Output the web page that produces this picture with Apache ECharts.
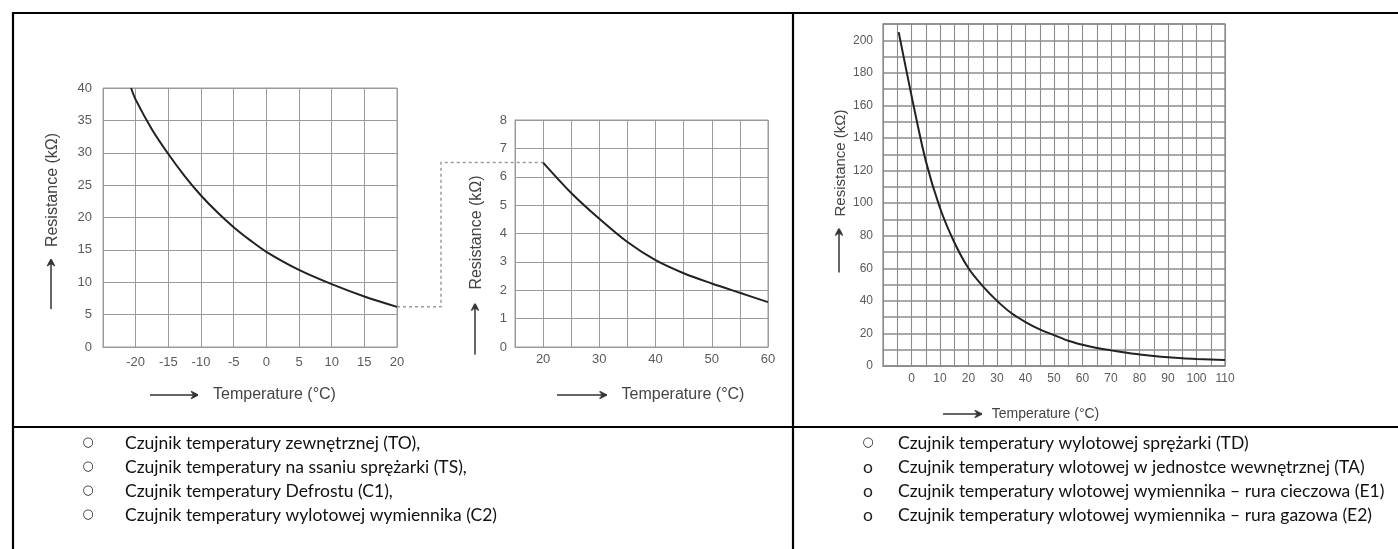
<!DOCTYPE html>
<html><head><meta charset="utf-8">
<script src="https://cdn.jsdelivr.net/npm/echarts@6/dist/echarts.min.js"></script>
<style>html,body{margin:0;padding:0;background:#fff}#c{width:1398px;height:549px}</style>
</head><body><div id="c"></div>
<script>
// ---- data ----
const temps1 = [-20.7, -20, -17.5, -15, -12.5, -10, -7.5, -5, -2.5, 0, 5, 10, 15, 20];
const res1   = [40, 38.2, 33.6, 29.8, 26.4, 23.4, 20.8, 18.5, 16.5, 14.7, 11.9, 9.7, 7.8, 6.2];
const temps2 = [20, 25, 30, 35, 40, 45, 50, 55, 60];
const res2   = [6.5, 5.43, 4.52, 3.7, 3.06, 2.6, 2.24, 1.91, 1.58];
const temps3 = [-4.5, 0, 5, 10, 15, 20, 25, 30, 35, 40, 45, 50, 55, 60, 65, 70, 75, 80, 85, 90, 95, 100, 105, 110];
const res3   = [205, 166, 126, 97, 76, 60, 49, 40, 32.5, 27, 22.5, 19, 15.5, 13, 11, 9.6, 8.3, 7.1, 6.1, 5.3, 4.7, 4.3, 4.0, 3.7];
const xLabels1 = [-20, -15, -10, -5, 0, 5, 10, 15, 20];
const yLabels1 = [0, 5, 10, 15, 20, 25, 30, 35, 40];
const xLabels2 = [20, 30, 40, 50, 60];
const yLabels2 = [0, 1, 2, 3, 4, 5, 6, 7, 8];
const xLabels3 = [0, 10, 20, 30, 40, 50, 60, 70, 80, 90, 100, 110];
const yLabels3 = [0, 20, 40, 60, 80, 100, 120, 140, 160, 180, 200];
const xName = 'Temperature (°C)';
const yName = 'Resistance (kΩ)';
const leftList = [
  'Czujnik temperatury zewnętrznej (TO),',
  'Czujnik temperatury na ssaniu sprężarki (TS),',
  'Czujnik temperatury Defrostu (C1),',
  'Czujnik temperatury wylotowej wymiennika (C2)'
];
const rightList = [
  'Czujnik temperatury wylotowej sprężarki (TD)',
  'Czujnik temperatury wlotowej w jednostce wewnętrznej (TA)',
  'Czujnik temperatury wlotowej wymiennika – rura cieczowa (E1)',
  'Czujnik temperatury wlotowej wymiennika – rura gazowa (E2)'
];
const rightBullets = ['○', 'o', 'o', 'o'];

// ---- styling helpers ----
const GRID = '#9a9a9a';
const FONT = '"Liberation Sans", Arial, sans-serif';
function arrowCanvas(len, h, ay) {
  const c = document.createElement('canvas');
  c.width = len; c.height = h;
  const g = c.getContext('2d');
  g.strokeStyle = '#333'; g.fillStyle = '#333'; g.lineWidth = 1.7;
  g.beginPath(); g.moveTo(0, ay); g.lineTo(len - 3, ay); g.stroke();
  g.beginPath(); g.moveTo(len - 7, ay - 3.6); g.lineTo(len, ay); g.lineTo(len - 7, ay + 3.6);
  g.lineTo(len - 5, ay); g.closePath(); g.fill();
  g.lineWidth = 1.2;
  g.beginPath(); g.moveTo(len - 7, ay - 3.6); g.lineTo(len, ay); g.lineTo(len - 7, ay + 3.6); g.stroke();
  return c;
}
function rich(arrowLen, gap, fs, shift) {
  const h = 16;
  return {
    a: { width: arrowLen, height: h, backgroundColor: { image: arrowCanvas(arrowLen, h, h / 2 - shift) }, verticalAlign: 'middle' },
    g: { width: gap },
    t: { fontSize: fs, color: '#444', fontFamily: FONT, verticalAlign: 'middle' }
  };
}
function axisName(text) { return '{a|}{g|}{t|' + text + '}'; }
function valAxis(o) {
  return {
    type: 'value', gridIndex: o.g, min: o.min, max: o.max, interval: o.interval,
    name: axisName(o.name), nameLocation: 'middle', nameGap: o.nameGap,
    nameRotate: o.rotate || 0,
    nameTextStyle: { padding: o.pad, rich: rich(o.arrow, o.gap, o.nfs, o.shift || 0) },
    axisLine: { show: true, lineStyle: { color: o.lc || GRID, width: 1 } },
    axisTick: { show: false },
    splitLine: { show: true, lineStyle: { color: o.lc || GRID, width: o.lw || 1 } },
    axisLabel: {
      color: '#5a5a5a', fontSize: o.fs, fontFamily: FONT, margin: o.margin,
      formatter: v => (o.labels.indexOf(Math.round(v * 1000) / 1000) >= 0 ? String(v) : '')
    }
  };
}
function pairs(xs, ys) { return xs.map((x, i) => [x, ys[i]]); }

const chart = echarts.init(document.getElementById('c'), null, { renderer: 'canvas' });
chart.setOption({
  animation: false,
  backgroundColor: '#fff',
  grid: [
    { left: 103, top: 88, width: 294, height: 259, show: true, borderColor: GRID, borderWidth: 1 },
    { left: 515, top: 120, width: 253, height: 227, show: true, borderColor: GRID, borderWidth: 1 },
    { left: 883, top: 24, width: 342, height: 342, show: true, borderColor: '#8c8c8c', borderWidth: 1.3 }
  ],
  xAxis: [
    valAxis({ g: 0, min: -25, max: 20, interval: 5, labels: xLabels1, fs: 13, margin: 9,
      name: xName, nameGap: 40, pad: [0, 14, 0, 0], arrow: 48, gap: 15, nfs: 16 }),
    valAxis({ g: 1, min: 15, max: 60, interval: 5, labels: xLabels2, fs: 13, margin: 6,
      name: xName, nameGap: 40, pad: [0, 0, 0, 18], arrow: 50, gap: 15, nfs: 16 }),
    valAxis({ g: 2, min: -10, max: 110, interval: 5, labels: xLabels3, fs: 12, margin: 7,
      name: xName, nameGap: 40, pad: [0, 66, 0, 0], arrow: 39, gap: 10, nfs: 14, lw: 1.1, lc: '#8c8c8c' })
  ],
  yAxis: [
    valAxis({ g: 0, min: 0, max: 40, interval: 5, labels: yLabels1, fs: 13, margin: 11,
      name: yName, nameGap: 42, rotate: 90, pad: [0, 7, 0, 0], arrow: 50, gap: 12, nfs: 16, shift: 2 }),
    valAxis({ g: 1, min: 0, max: 8, interval: 1, labels: yLabels2, fs: 13, margin: 8,
      name: yName, nameGap: 30, rotate: 90, pad: [0, 63, 0, 0], arrow: 51, gap: 14, nfs: 16, shift: 2 }),
    valAxis({ g: 2, min: 0, max: 210, interval: 10, labels: yLabels3, fs: 12, margin: 10,
      name: yName, nameGap: 34, rotate: 90, pad: [0, 0, 0, 8], arrow: 44, gap: 12, nfs: 15, shift: 2, lw: 1.5, lc: '#8c8c8c' })
  ],
  series: [
    { type: 'line', xAxisIndex: 0, yAxisIndex: 0, data: pairs(temps1, res1), smooth: 0.3,
      showSymbol: false, lineStyle: { color: '#222', width: 2 } },
    { type: 'line', xAxisIndex: 1, yAxisIndex: 1, data: pairs(temps2, res2), smooth: 0.3,
      showSymbol: false, lineStyle: { color: '#222', width: 2 } },
    { type: 'line', xAxisIndex: 2, yAxisIndex: 2, data: pairs(temps3, res3), smooth: 0.3,
      showSymbol: false, lineStyle: { color: '#222', width: 2 } }
  ]
});

// connector between the end of curve 1 and the start of curve 2
const pA = chart.convertToPixel({ gridIndex: 0 }, [temps1[temps1.length - 1], res1[res1.length - 1]]);
const pB = chart.convertToPixel({ gridIndex: 1 }, [temps2[0], res2[0]]);
const midX = pA[0] + 44;

const graphics = [];
function hline(x1, y1, x2, y2) {
  graphics.push({ type: 'line', shape: { x1, y1, x2, y2 }, style: { stroke: '#000', lineWidth: 2.2 }, silent: true });
}
hline(13, 13, 1398, 13);
hline(13, 12, 13, 549);
hline(793, 12, 793, 549);
hline(13, 427, 1398, 427);
graphics.push({
  type: 'polyline', shape: { points: [pA, [midX, pA[1]], [midX, pB[1]], pB] },
  style: { stroke: '#9a9a9a', lineWidth: 1.5, lineDash: [3, 3], fill: null }, silent: true
});
const LFONT = 'Lato, "Open Sans", sans-serif';
leftList.forEach((t, i) => {
  const y = 443 + i * 24;
  graphics.push({ type: 'text', x: 88, y, style: { text: '○', font: '13px "DejaVu Sans"', fill: '#222', textAlign: 'center', textVerticalAlign: 'middle' } });
  graphics.push({ type: 'text', x: 125, y, style: { text: t, font: '17.5px ' + LFONT, fill: '#111', textVerticalAlign: 'middle' } });
});
rightList.forEach((t, i) => {
  const y = 443 + i * 24;
  const b = rightBullets[i];
  graphics.push({ type: 'text', x: 868, y, style: { text: b, font: (b === '○' ? '13px "DejaVu Sans"' : '17.5px ' + LFONT), fill: '#222', textAlign: 'center', textVerticalAlign: 'middle' } });
  graphics.push({ type: 'text', x: 898, y, style: { text: t, font: '17.5px ' + LFONT, fill: '#111', textVerticalAlign: 'middle' } });
});
chart.setOption({ graphic: graphics });
</script></body></html>
